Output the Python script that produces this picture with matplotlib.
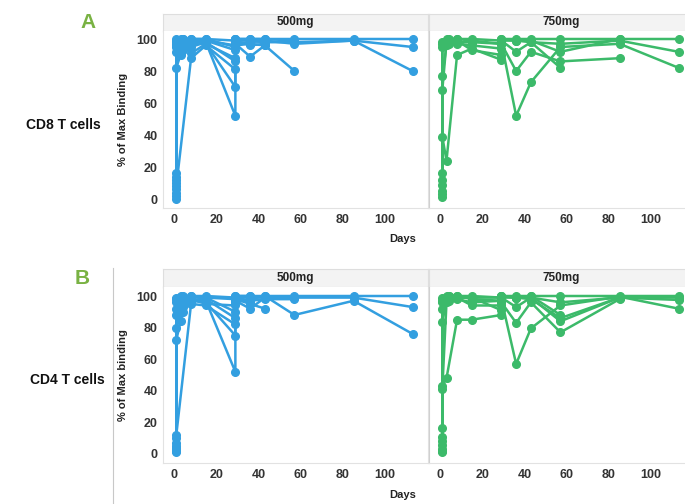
import matplotlib
matplotlib.use("Agg")
import matplotlib.pyplot as plt
from matplotlib.lines import Line2D

plt.rcParams['font.family'] = ['Liberation Sans', 'DejaVu Sans']
plt.rcParams['font.weight'] = 'bold'
plt.rcParams['axes.labelweight'] = 'bold'

# visit schedule (pre/post dose on day 1 and day 29)
visit_days = [1, 1, 3, 4, 8, 15, 29, 29, 36, 43, 57, 85, 113]

# CD8 T cells, 500 mg, one row per subject (None = no sample)
cd8_500mg = [
    [0, 98, 99, 100, 100, 100, 99, 100, 100, 100, 100, 100, 100],
    [2, 95, 97, 98, 99, 99, 96, 99, 99, 98, 98, 99, 95],
    [4, 92, 94, 96, 97, 98, 52, 97, 98, 99, 97, 99, 80],
    [6, 82, 90, 93, 97, 97, 70, 98, 97, 96, 80, None, None],
    [8, None, None, None, 88, 96, 81, 97, 89, 96, None, None, None],
    [10, 96, 98, 99, 91, 97, 88, 99, 96, 97, None, None, None],
    [12, 99, 100, 100, 98, 99, 93, 100, 100, 100, 99, None, None],
    [14, 97, 91, 94, 95, 98, 86, 96, 97, None, None, None, None],
    [16, 100, 99, 97, 100, 100, 95, 100, 99, 98, None, None, None],
]

# CD8 T cells, 750 mg
cd8_750mg = [
    [1.5, 98, 100, 100, 100, 100, 99, 100, 100, 100, 100, 100, 100],
    [3, 68, 98, 99, 98, 98, 97, 99, 92, 98, 97, 99, 92],
    [9, 77, 96, 97, 97, 96, 94, 98, 52, 73, 95, 97, 82],
    [16, 39, 24, None, 90, 94, 87, 97, 80, 92, 86, 88, None],
    [5, 95, 97, 99, 99, 93, 90, 99, 99, 98, 82, None, None],
    [12, 97, 99, 98, 100, 99, 97, 100, 99, 99, 92, 100, None],
]

# CD4 T cells, 500 mg
cd4_500mg = [
    [1, 99, 100, 100, 100, 100, 99, 100, 100, 100, 100, 100, 100],
    [3, 92, 96, 98, 99, 99, 98, 99, 99, 99, 99, 99, 93],
    [5, 88, 94, 97, 98, 97, 52, 96, 98, 100, 88, 97, 76],
    [10, 72, 84, 90, 97, 96, 75, 98, 95, 92, None, None, None],
    [12, None, None, None, 95, 94, 82, 97, 92, 99, None, None, None],
    [2, 96, 98, 99, 100, 98, 86, 99, 97, 98, 98, None, None],
    [4, 80, 90, 93, 96, 99, 90, 100, 100, None, None, None, None],
    [7, 98, 99, 95, 98, 95, 94, 98, 96, None, None, None, None],
]

# CD4 T cells, 750 mg
cd4_750mg = [
    [1.5, 99, 100, 100, 100, 100, 99, 100, 100, 100, 100, 100, 100],
    [6, 92, 99, 99, 98, 96, 97, 99, 93, 99, 96, 99, 97.5],
    [11, 83.5, 97, 98, 99, 94, 94, 98, 57, 79.5, 94, 99.6, 92],
    [16.5, 43, 48, None, 85, 85, 88, 96, 83, 96, 77, 98, None],
    [3, 41, 96, 99, 99, 99, 91, 99, 99, 99, 84, 99, None],
    [8, 97, 99, 100, 100, 98, 97, 100, 99, 98, 86, 99, 99],
    [2, 96, 98, 97, 99, 99, 99, 100, 99, 100, 88, None, None],
]

dose_labels = ['500mg', '750mg']
blue = '#339fe0'
green = '#3cba6a'

W, H = 685, 504
fig = plt.figure(figsize=(W / 100, H / 100), dpi=100)


def px_axes(x0, y0, x1, y1):
    # axes from pixel box (top-left origin)
    return fig.add_axes([x0 / W, 1 - y1 / H, (x1 - x0) / W, (y1 - y0) / H])


def draw_panel(ax, subjects, color, ylims):
    for vals in subjects:
        pts = [(d, v) for d, v in zip(visit_days, vals) if v is not None]
        xs = [p[0] for p in pts]
        ys = [p[1] for p in pts]
        ax.plot(xs, ys, '-o', color=color, lw=1.8, ms=5.5, mec=color)
    ax.set_xlim(-5.3, 120.3)
    ax.set_ylim(*ylims)
    ax.set_xticks([0, 20, 40, 60, 80, 100])
    ax.set_yticks([0, 20, 40, 60, 80, 100])
    ax.tick_params(length=0, labelsize=9, colors='#333333', pad=4)
    for s in ax.spines.values():
        s.set_color('#e2e2e2')
        s.set_linewidth(0.8)
    ax.spines['top'].set_visible(False)


def draw_strip(x0, y0, x1, y1, label):
    sax = px_axes(x0, y0, x1, y1)
    sax.set_facecolor('#f3f3f3')
    sax.set_xticks([])
    sax.set_yticks([])
    for s in sax.spines.values():
        s.set_color('#dedede')
        s.set_linewidth(0.8)
    sax.text(0.5, 0.5, label, ha='center', va='center', fontsize=8.5,
             color='#222222', transform=sax.transAxes)


rows = [
    (14, 31, 208, [cd8_500mg, cd8_750mg], (-5.6, 105.0), '% of Max Binding'),
    (269, 287, 463, [cd4_500mg, cd4_750mg], (-5.7, 105.7), '% of Max binding'),
]
panel_x = [(163, 428), (429, 694)]
colors = [blue, green]

for strip_top, plot_top, plot_bot, data, ylims, ylab in rows:
    for i, (x0, x1) in enumerate(panel_x):
        draw_strip(x0, strip_top, x1, plot_top, dose_labels[i])
        ax = px_axes(x0, plot_top, x1, plot_bot)
        draw_panel(ax, data[i], colors[i], ylims)
        if i == 1:
            ax.set_yticklabels([])
            ax.spines['left'].set_color('#d0d0d0')
        else:
            ax.set_ylabel(ylab, fontsize=8, fontweight='bold',
                          color='#222222', labelpad=6)

# axis titles and row labels
fig.text(403 / W, 1 - 239 / H, 'Days', ha='center', va='center', fontsize=8,
         color='#222222')
fig.text(403 / W, 1 - 495 / H, 'Days', ha='center', va='center', fontsize=8,
         color='#222222')
fig.text(63 / W, 1 - 125 / H, 'CD8 T cells', ha='center', va='center',
         fontsize=10, color='#111111')
fig.text(67 / W, 1 - 380 / H, 'CD4 T cells', ha='center', va='center',
         fontsize=10, color='#111111')
fig.text(88 / W, 1 - 22 / H, 'A', ha='center', va='center', fontsize=15,
         color='#79b243')
fig.text(82 / W, 1 - 278 / H, 'B', ha='center', va='center', fontsize=15,
         color='#79b243')

# thin divider on the left of the lower block
fig.add_artist(Line2D([113 / W, 113 / W], [0, 1 - 268 / H],
                      transform=fig.transFigure, color='#c8c8c8', lw=0.8))

fig.savefig('out.png', dpi=100)
